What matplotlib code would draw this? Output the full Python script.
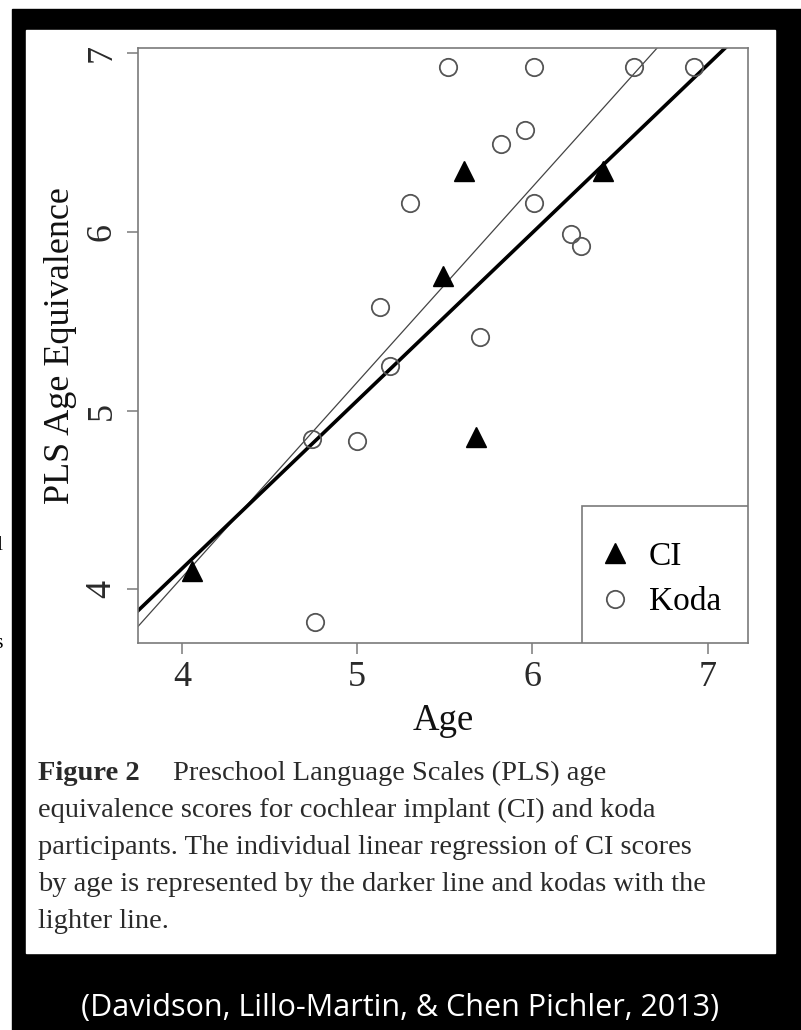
import numpy as np
import matplotlib
matplotlib.use("Agg")
import matplotlib.pyplot as plt
from matplotlib.patches import Rectangle

plt.rcParams['font.family'] = ['Liberation Serif', 'DejaVu Serif']

# CI (cochlear implant) participants
ci_age = [4.06, 5.49, 5.61, 6.40, 5.68]
ci_pls = [4.10, 5.75, 6.34, 6.34, 4.85]

# Koda participants
koda_age = [5.52, 6.01, 6.58, 6.92, 5.82, 5.96, 5.30, 6.01, 6.22, 6.28,
            5.13, 5.70, 5.19, 4.74, 5.00, 4.76]
koda_pls = [6.92, 6.92, 6.92, 6.92, 6.49, 6.57, 6.16, 6.16, 5.99, 5.92,
            5.58, 5.41, 5.25, 4.84, 4.83, 3.82]

xticks = [4, 5, 6, 7]
yticks = [4, 5, 6, 7]

caption_lines = [
    "equivalence scores for cochlear implant (CI) and koda",
    "participants. The individual linear regression of CI scores",
    "by age is represented by the darker line and kodas with the",
    "lighter line.",
]
citation = "(Davidson, Lillo-Martin, & Chen Pichler, 2013)"

W, H = 801, 1030
fig = plt.figure(figsize=(W / 100, H / 100), dpi=100)

def px(x0, y0, x1, y1):
    # pixel box -> figure fraction (left, bottom, width, height)
    return x0 / W, 1 - y1 / H, (x1 - x0) / W, (y1 - y0) / H

# black frame and white panel
l, b, w, h = px(12, 9, W, H)
fig.patches.append(Rectangle((l, b), w, h, transform=fig.transFigure, color='black', zorder=-2))
l, b, w, h = px(26, 30, 775, 953)
fig.patches.append(Rectangle((l, b), w, h, transform=fig.transFigure, color='white', zorder=-1))

# bits of cut-off text at the very left edge (as in the screenshot)
fig.text(3 / W, 1 - 545 / H, "l", fontsize=16, ha='right', va='center')
fig.text(3 / W, 1 - 643 / H, "s", fontsize=16, ha='right', va='center')

ax = fig.add_axes(px(138, 48, 748, 643))
ax.set_zorder(2)
ax.set_xlim(3.75, 7.23)
ax.set_ylim(3.70, 7.028)

# regression lines
xs = np.array([3.5, 7.5])
k1, k0 = np.polyfit(koda_age, koda_pls, 1)
ax.plot(xs, k1 * xs + k0, color='#444444', lw=0.9, zorder=2)
c1, c0 = np.polyfit(ci_age, ci_pls, 1)
ax.plot(xs, c1 * xs + c0, color='black', lw=2.6, zorder=2)

ax.plot(ci_age, ci_pls, '^', color='black', ms=14, ls='none', label='CI', zorder=3)
ax.plot(koda_age, koda_pls, 'o', mfc='none', mec='#555555', mew=1.3, ms=12.5,
        ls='none', label='Koda', zorder=3)

for s in ax.spines.values():
    s.set_color('#7a7a7a')
    s.set_linewidth(1.2)

ax.set_xticks(xticks)
ax.set_yticks(yticks)
ax.tick_params(direction='out', length=8, width=1.1, color='#7a7a7a',
               labelsize=26, labelcolor='#2a2a2a')
ax.tick_params(axis='x', pad=5)
ax.tick_params(axis='y', pad=6)
for t in ax.get_yticklabels():
    t.set_rotation(90)
    t.set_va('center')

ax.set_xlabel("Age", fontsize=26.5, color='#111111', labelpad=7)
ax.set_ylabel("PLS Age Equivalence", fontsize=26, color='#111111', labelpad=6)

# R style legend box in the lower right corner
box_x0, box_y1 = 0.728, 0.230
ax.add_patch(Rectangle((box_x0, 0), 1 - box_x0, box_y1, transform=ax.transAxes,
                       facecolor='white', edgecolor='#7a7a7a', lw=1.2, zorder=4))
leg = ax.legend(loc='center', bbox_to_anchor=((box_x0 + 1) / 2 - 0.007, box_y1 / 2 - 0.008),
                frameon=False, fontsize=24, handlelength=0.9, handletextpad=0.55,
                borderpad=0, labelspacing=0.45)
leg.set_zorder(5)

# caption
cap_size = 20.5
fig.text(38 / W, 1 - 773 / H, "Figure 2", fontsize=cap_size, fontweight='bold',
         color='#2a2a2a', va='center')
fig.text(173 / W, 1 - 773 / H, "Preschool Language Scales (PLS) age",
         fontsize=cap_size, color='#2a2a2a', va='center')
for i, line in enumerate(caption_lines):
    fig.text(38 / W, 1 - (810 + 37.3 * i) / H, line, fontsize=cap_size,
             color='#2a2a2a', va='center')

fig.text(400 / W, 1 - 1008 / H, citation, fontsize=22, color='white',
         ha='center', va='center', family=['Open Sans', 'DejaVu Sans'])

fig.savefig("out.png", dpi=100)
